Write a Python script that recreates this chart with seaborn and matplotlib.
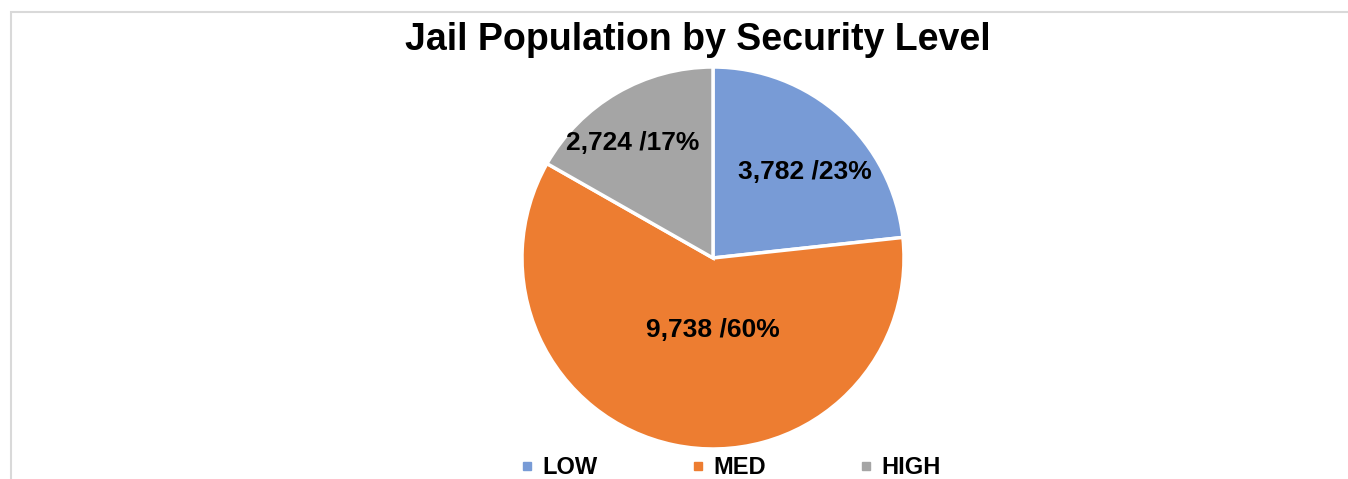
import numpy as np
import matplotlib
matplotlib.use("Agg")
import matplotlib.pyplot as plt
import seaborn as sns
from matplotlib.lines import Line2D
from matplotlib.patches import Rectangle

sns.set_theme(style="white")
plt.rcParams["font.family"] = ["Liberation Sans", "DejaVu Sans"]
plt.rcParams["text.color"] = "black"

levels = ["LOW", "MED", "HIGH"]
counts = [3782, 9738, 2724]
colors = ["#789BD6", "#ED7D31", "#A5A5A5"]
# label placement: share of radius, and turn (deg) away from the slice middle
label_dist = [0.66, 0.377, 0.733]
label_turn = [-5, 11.7, 4.6]

W, H = 1348, 479
fig = plt.figure(figsize=(W / 100, H / 100), dpi=100)
ax = fig.add_axes([0, 0, 1, 1])

# light chart frame, cut off on the right and bottom
fig.patches.append(Rectangle((11 / W, -0.1), 1.2, (H - 11.5) / H + 0.1,
                             transform=fig.transFigure, fill=False,
                             edgecolor="#D9D9D9", linewidth=1.5))

wedges, _ = ax.pie(counts, colors=colors, startangle=90, counterclock=False,
                   radius=1, wedgeprops=dict(edgecolor="white", linewidth=2.5))

total = sum(counts)
for w, c, d, t in zip(wedges, counts, label_dist, label_turn):
    mid = np.deg2rad((w.theta1 + w.theta2) / 2 + t)
    ax.text(d * np.cos(mid), d * np.sin(mid), f"{c:,} /{round(100 * c / total)}%",
            ha="center", va="center", fontsize=19, fontweight="bold", color="black")

# pie centre at (713, 258) px, radius 191 px
rpx, cx, cy = 191, 713, 258
ax.set_xlim(-cx / rpx, (W - cx) / rpx)
ax.set_ylim(-(H - cy) / rpx, cy / rpx)
ax.set_aspect("equal")
ax.axis("off")

fig.text(698 / W, 1 - 40 / H, "Jail Population by Security Level", ha="center",
         va="center", fontsize=27, fontweight="bold", color="black")

handles = [Line2D([], [], marker="s", linestyle="", markersize=6, color=c) for c in colors]
fig.legend(handles, levels, loc="center", bbox_to_anchor=(730 / W, 1 - 468 / H), ncol=3,
           frameon=False, prop=dict(weight="bold", size=17), handletextpad=0.3,
           columnspacing=3.9, handlelength=0.7, labelcolor="black")

fig.savefig("out.png", dpi=100)
